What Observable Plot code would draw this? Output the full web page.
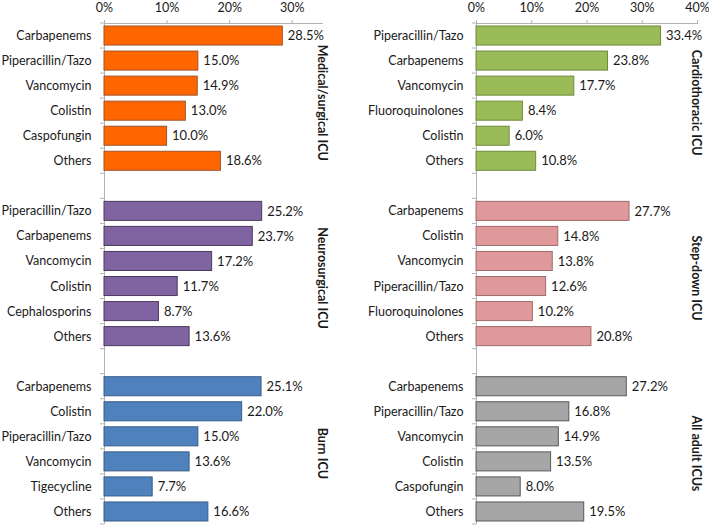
<!DOCTYPE html>
<html><head><meta charset="utf-8">
<script src="https://cdn.jsdelivr.net/npm/d3@7"></script>
<script src="https://cdn.jsdelivr.net/npm/@observablehq/plot@0.6"></script>
<style>body{margin:0;background:#fff} #wrap{display:flex;width:709px;height:527px}</style>
</head><body><div id="wrap"></div>
<script>
// ---- data ----
const medSurgName = "Medical/surgical ICU";
const medSurgCats = ["Carbapenems","Piperacillin/Tazo","Vancomycin","Colistin","Caspofungin","Others"];
const medSurgVals = [28.5,15.0,14.9,13.0,10.0,18.6];

const neuroName = "Neurosurgical ICU";
const neuroCats = ["Piperacillin/Tazo","Carbapenems","Vancomycin","Colistin","Cephalosporins","Others"];
const neuroVals = [25.2,23.7,17.2,11.7,8.7,13.6];

const burnName = "Burn ICU";
const burnCats = ["Carbapenems","Colistin","Piperacillin/Tazo","Vancomycin","Tigecycline","Others"];
const burnVals = [25.1,22.0,15.0,13.6,7.7,16.6];

const cardioName = "Cardiothoracic ICU";
const cardioCats = ["Piperacillin/Tazo","Carbapenems","Vancomycin","Fluoroquinolones","Colistin","Others"];
const cardioVals = [33.4,23.8,17.7,8.4,6.0,10.8];

const stepName = "Step-down ICU";
const stepCats = ["Carbapenems","Colistin","Vancomycin","Piperacillin/Tazo","Fluoroquinolones","Others"];
const stepVals = [27.7,14.8,13.8,12.6,10.2,20.8];

const allName = "All adult ICUs";
const allCats = ["Carbapenems","Piperacillin/Tazo","Vancomycin","Colistin","Caspofungin","Others"];
const allVals = [27.2,16.8,14.9,13.5,8.0,19.5];

const leftTicks = [0,10,20,30];
const rightTicks = [0,10,20,30,40];

// ---- styles ----
const FONT = "Lato, 'Open Sans', sans-serif";
const AXIS = "#b3b3b3";
const INK = "#1a1a1a";

function column({panels, width, marginLeft, marginRight, xMax, ticks}) {
  const rows = [];
  const domain = [];
  panels.forEach((p, pi) => {
    if (pi > 0) domain.push("gap" + pi);
    p.cats.forEach((c, i) => {
      const key = pi + "|" + i;
      domain.push(key);
      rows.push({key, cat: c, value: p.vals[i], fill: p.fill, stroke: p.stroke});
    });
  });
  const labelOf = new Map(rows.map(r => [r.key, r.cat]));
  const panelRows = panels.map((p, pi) => ({key: pi + "|2", name: p.name}));
  const H = 527, mT = 23, mB = 3;
  const pad = 0.24;
  const step = (H - mT - mB) / domain.length;

  const chart = Plot.plot({
    width, height: H, marginTop: mT, marginBottom: mB, marginLeft, marginRight,
    style: {fontFamily: FONT, fontSize: "12.5px", color: INK, background: "#fff"},
    x: {domain: [0, xMax], label: null},
    y: {domain, paddingInner: pad, paddingOuter: pad / 2, round: false, label: null},
    color: {type: "identity"},
    marks: [
      Plot.axisX({anchor: "top", ticks, tickFormat: d => d + "%", tickSize: 4, tickPadding: 8, stroke: AXIS, fill: INK, label: null}),
      Plot.axisY({tickSize: 0, tickPadding: 13, tickFormat: k => labelOf.get(k) ?? "", fill: INK, label: null}),
      Plot.ruleY([domain[0]], {dy: -step / 2, stroke: AXIS}),
      Plot.ruleX([0], {stroke: AXIS}),
      Plot.barX(rows, {x: "value", y: "key", fill: "fill", stroke: "stroke", strokeWidth: 1}),
      Plot.text(rows, {x: "value", y: "key", text: d => d.value.toFixed(1) + "%", textAnchor: "start", dx: 5, fill: INK, fontSize: 13}),
      Plot.text(panelRows, {y: "key", text: "name", frameAnchor: "right", textAnchor: "middle", rotate: 90, dy: step / 2 + 4, dx: -2, fontWeight: "bold", fontSize: 12.5, fill: INK})
    ]
  });

  // category boundary ticks on the vertical axis, from the plot's own scales
  const ys = chart.scale("y");
  const x0 = chart.scale("x").apply(0);
  const g = d3.select(chart).append("g").attr("stroke", AXIS);
  const gapHalf = (ys.step - ys.bandwidth) / 2;
  domain.forEach(k => {
    const t = ys.apply(k) - gapHalf;
    g.append("line").attr("x1", x0 - 4).attr("x2", x0).attr("y1", t).attr("y2", t);
  });
  const last = ys.apply(domain[domain.length - 1]) + ys.bandwidth + gapHalf;
  g.append("line").attr("x1", x0 - 4).attr("x2", x0).attr("y1", last).attr("y2", last);
  return chart;
}

const left = column({
  width: 355, marginLeft: 104, marginRight: 32, xMax: 35, ticks: leftTicks,
  panels: [
    {name: medSurgName, cats: medSurgCats, vals: medSurgVals, fill: "#ff6600", stroke: "#a0522d"},
    {name: neuroName, cats: neuroCats, vals: neuroVals, fill: "#8064a2", stroke: "#4a3a5e"},
    {name: burnName, cats: burnCats, vals: burnVals, fill: "#4f81bd", stroke: "#385d8a"}
  ]
});
const right = column({
  width: 354, marginLeft: 121, marginRight: 12, xMax: 40, ticks: rightTicks,
  panels: [
    {name: cardioName, cats: cardioCats, vals: cardioVals, fill: "#9bbb59", stroke: "#6f8a3a"},
    {name: stepName, cats: stepCats, vals: stepVals, fill: "#e0999a", stroke: "#9e6b6a"},
    {name: allName, cats: allCats, vals: allVals, fill: "#a6a6a6", stroke: "#595959"}
  ]
});
document.getElementById("wrap").append(left, right);
</script>
</body></html>
